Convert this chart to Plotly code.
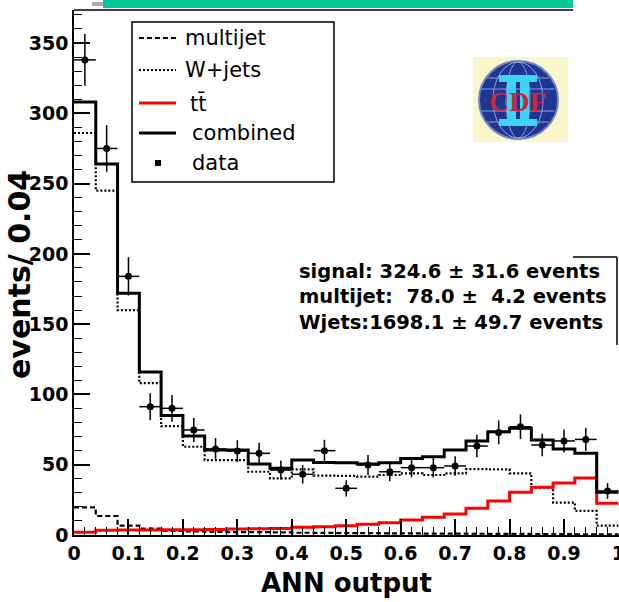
import math
import plotly.graph_objects as go

# ---------------- data ----------------
bin_edges = [0.00, 0.04, 0.08, 0.12, 0.16, 0.20, 0.24, 0.28, 0.32, 0.36, 0.40,
             0.44, 0.48, 0.52, 0.56, 0.60, 0.64, 0.68, 0.72, 0.76, 0.80,
             0.84, 0.88, 0.92, 0.96, 1.00]
bin_centers = [0.02, 0.06, 0.10, 0.14, 0.18, 0.22, 0.26, 0.30, 0.34, 0.38,
               0.42, 0.46, 0.50, 0.54, 0.58, 0.62, 0.66, 0.70, 0.74, 0.78,
               0.82, 0.86, 0.90, 0.94, 0.98]
bin_half_width = [0.02] * 25

multijet = [19.7, 13.5, 6.6, 4.5, 3.0, 2.5, 2.2, 2.0, 2.0, 1.8, 1.6, 1.5, 1.4,
            1.3, 1.2, 1.1, 1.0, 1.0, 0.9, 0.8, 0.8, 0.7, 0.6, 0.5, 0.4]
wjets = [286, 245, 160, 108, 77.5, 62.8, 53.3, 53.3, 45.0, 40.3, 46.7, 42.2,
         42.0, 41.5, 42.7, 43.9, 42.7, 43.9, 46.9, 46.7, 43.9, 33.7, 23.0,
         17.1, 6.6]
ttbar = [2.0, 3.3, 3.5, 3.6, 3.7, 3.8, 3.9, 4.3, 4.5, 4.7, 5.6, 5.9, 6.6, 7.6,
         8.8, 10.7, 12.6, 14.9, 19.0, 24.2, 30.4, 33.9, 37.0, 40.5, 22.5]
combined = [308, 264, 172, 116, 85, 70.4, 60.5, 60.5, 50.5, 47.4, 53.3, 51.5,
            51.4, 50.5, 51.4, 54.5, 55.7, 60.5, 66.9, 73.5, 75.9, 67.6, 61.2,
            58.1, 30.5]
data = [338, 275, 184, 91.3, 90.1, 74.7, 61.2, 59.7, 58.1, 46.2, 43.2, 60.0,
        33.2, 49.8, 45.0, 47.9, 47.9, 49.1, 63.3, 73.0, 77.0, 64.0, 66.9,
        68.0, 31.3]
data_err = [18.4, 16.6, 13.6, 9.6, 9.5, 8.6, 7.8, 7.7, 7.6, 6.8, 6.6, 7.7,
            5.8, 7.1, 6.7, 6.9, 6.9, 7.0, 8.0, 8.5, 8.8, 8.0, 8.2, 8.2, 5.6]

legend_labels = ["multijet", "W+jets", "tt\u0304", "combined", "data"]
fit_lines = ["signal: 324.6\u00a0\u00b1\u00a031.6 events",
             "multijet:\u00a0\u00a078.0\u00a0\u00b1\u00a0\u00a04.2 events",
             "Wjets:1698.1\u00a0\u00b1\u00a049.7 events"]
x_title = "ANN output"
y_title = "events/ 0.04"

# ---------------- geometry helpers (pixels -> paper) ----------------
W, H = 619, 602
ML, MT, MB = 74, 10, 67
PW, PH = W - ML, H - MT - MB


def px(x):
    return (x - ML) / PW


def py(y):
    return (H - MB - y) / PH


def step(vals):
    return list(vals) + [vals[-1]]


BOLD = dict(family="DejaVu Sans", size=19, color="black", weight="bold")

fig = go.Figure()
fig.add_trace(go.Scatter(x=bin_edges, y=step(multijet), mode="lines",
                         line=dict(shape="hv", color="black", width=2.2, dash="5px,3px"),
                         name=legend_labels[0], showlegend=False))
fig.add_trace(go.Scatter(x=bin_edges, y=step(wjets), mode="lines",
                         line=dict(shape="hv", color="black", width=2.2, dash="2px,2px"),
                         name=legend_labels[1], showlegend=False))
fig.add_trace(go.Scatter(x=bin_edges, y=step(ttbar), mode="lines",
                         line=dict(shape="hv", color="#ff0000", width=3),
                         name=legend_labels[2], showlegend=False))
fig.add_trace(go.Scatter(x=bin_edges, y=step(combined), mode="lines",
                         line=dict(shape="hv", color="black", width=3),
                         name=legend_labels[3], showlegend=False))
fig.add_trace(go.Scatter(x=bin_centers, y=data, mode="markers",
                         marker=dict(color="black", size=7, symbol="circle"),
                         error_y=dict(type="data", array=data_err, color="black",
                                      thickness=1.5, width=0),
                         error_x=dict(type="data", array=bin_half_width, color="black",
                                      thickness=1.5, width=0),
                         name=legend_labels[4], showlegend=False))

shapes = []
annotations = []

# top decoration (slide bar) and frame
shapes.append(dict(type="rect", xref="paper", yref="paper", x0=px(103), x1=px(573),
                   y0=py(8), y1=py(-2), fillcolor="#00c896", line=dict(width=0)))
shapes.append(dict(type="rect", xref="paper", yref="paper", x0=px(92), x1=px(103),
                   y0=py(6), y1=py(2), fillcolor="#aaaaaa", line=dict(width=0)))
shapes.append(dict(type="line", xref="paper", yref="paper", x0=px(74), x1=px(573),
                   y0=1, y1=1, line=dict(color="black", width=1.5)))
# partial pave box edge at right
shapes.append(dict(type="line", xref="paper", yref="paper", x0=px(573), x1=px(617),
                   y0=py(257), y1=py(257), line=dict(color="black", width=1.5)))
shapes.append(dict(type="line", xref="paper", yref="paper", x0=px(617), x1=px(617),
                   y0=py(257), y1=py(345), line=dict(color="black", width=1.5)))

# legend (manual, ROOT style)
shapes.append(dict(type="rect", xref="paper", yref="paper", x0=px(132), x1=px(334),
                   y0=py(182), y1=py(22), line=dict(color="black", width=1.5),
                   fillcolor="white"))
leg_y = [38, 70, 103, 133, 163]
leg_style = [dict(color="black", width=2.2, dash="5px,3px"),
             dict(color="black", width=2.2, dash="2px,2px"),
             dict(color="#ff0000", width=3),
             dict(color="black", width=3)]
for yy, st in zip(leg_y[:4], leg_style):
    shapes.append(dict(type="line", xref="paper", yref="paper", x0=px(139), x1=px(176),
                       y0=py(yy), y1=py(yy), line=st))
shapes.append(dict(type="rect", xref="paper", yref="paper", x0=px(155), x1=px(161),
                   y0=py(166), y1=py(160), fillcolor="black", line=dict(width=0)))
leg_x = [183, 183, 188, 190, 190]
for lab, xx, yy in zip(legend_labels, leg_x, leg_y):
    annotations.append(dict(text=lab, xref="paper", yref="paper", x=px(xx), y=py(yy),
                            xanchor="left", yanchor="middle", showarrow=False,
                            font=dict(family="DejaVu Sans", size=21, color="black")))

# fit result text (one block, tight line spacing as in the reference)
annotations.append(dict(text="<br>".join(fit_lines), xref="paper", yref="paper",
                        x=px(297), y=py(297), xanchor="left", yanchor="middle",
                        align="left", showarrow=False,
                        font=dict(family="DejaVu Sans", size=19.5, color="black", weight="bold")))

# CDF logo (drawn)
shapes.append(dict(type="rect", xref="paper", yref="paper", x0=px(473), x1=px(568),
                   y0=py(142), y1=py(57), fillcolor="#fbf6c9", line=dict(width=0)))
shapes.append(dict(type="circle", xref="paper", yref="paper", x0=px(479), x1=px(558),
                   y0=py(139), y1=py(61), fillcolor="#1e3592",
                   line=dict(color="#6f86c8", width=2)))
cx, cy, r = 518, 100, 38
for gy in [78, 89, 111, 122]:
    hw = r * math.sqrt(max(0.0, 1 - ((gy - cy) / r) ** 2))
    shapes.append(dict(type="line", xref="paper", yref="paper", x0=px(cx - hw), x1=px(cx + hw),
                       y0=py(gy), y1=py(gy), line=dict(color="#8ea2dc", width=1)))
for hw in [12, 25]:
    shapes.append(dict(type="circle", xref="paper", yref="paper", x0=px(cx - hw), x1=px(cx + hw),
                       y0=py(cy + r), y1=py(cy - r), line=dict(color="#8ea2dc", width=1)))
for x0, x1, y0, y1 in [(499, 537, 75, 82), (499, 537, 119, 126), (507, 516, 75, 126), (520, 529, 75, 126)]:
    shapes.append(dict(type="rect", xref="paper", yref="paper", x0=px(x0), x1=px(x1),
                       y0=py(y1), y1=py(y0), fillcolor="#3fd3f2", line=dict(width=0)))
annotations.append(dict(text="<b>CDF</b>", xref="paper", yref="paper", x=px(518), y=py(101),
                        xanchor="center", yanchor="middle", showarrow=False,
                        font=dict(family="Liberation Serif", size=28, color="#c62a3a")))

# axis titles
annotations.append(dict(text=x_title, xref="paper", yref="paper", x=0.5, y=py(583),
                        xanchor="center", yanchor="middle", showarrow=False,
                        font=dict(family="DejaVu Sans", size=26, color="black", weight="bold")))
annotations.append(dict(text=y_title, xref="paper", yref="paper", x=px(19), y=py(275),
                        xanchor="center", yanchor="middle", showarrow=False, textangle=-90,
                        font=dict(family="DejaVu Sans", size=30, color="black", weight="bold")))

axis_common = dict(showline=True, linecolor="black", linewidth=1.5, ticks="inside",
                   tickcolor="black", tickwidth=1.5, ticklen=16, showgrid=False,
                   zeroline=False, tickfont=BOLD, automargin=False, mirror=False,
                   ticklabeloverflow="allow")

fig.update_layout(
    width=W, height=H,
    margin=dict(l=ML, r=0, t=MT, b=MB, pad=0),
    paper_bgcolor="white", plot_bgcolor="white",
    showlegend=False,
    xaxis=dict(range=[0, 1.001], tick0=0, dtick=0.1,
               minor=dict(dtick=0.02, ticklen=8, tickwidth=1.2, ticks="inside", tickcolor="black"),
               **axis_common),
    yaxis=dict(range=[0, 373.5], tick0=0, dtick=50,
               minor=dict(dtick=10, ticklen=8, tickwidth=1.2, ticks="inside", tickcolor="black"),
               **axis_common),
    shapes=shapes,
    annotations=annotations,
)

fig.write_html("out.html", config={"displayModeBar": False},
               post_script="document.body.style.margin='0';document.body.style.overflow='hidden';")
